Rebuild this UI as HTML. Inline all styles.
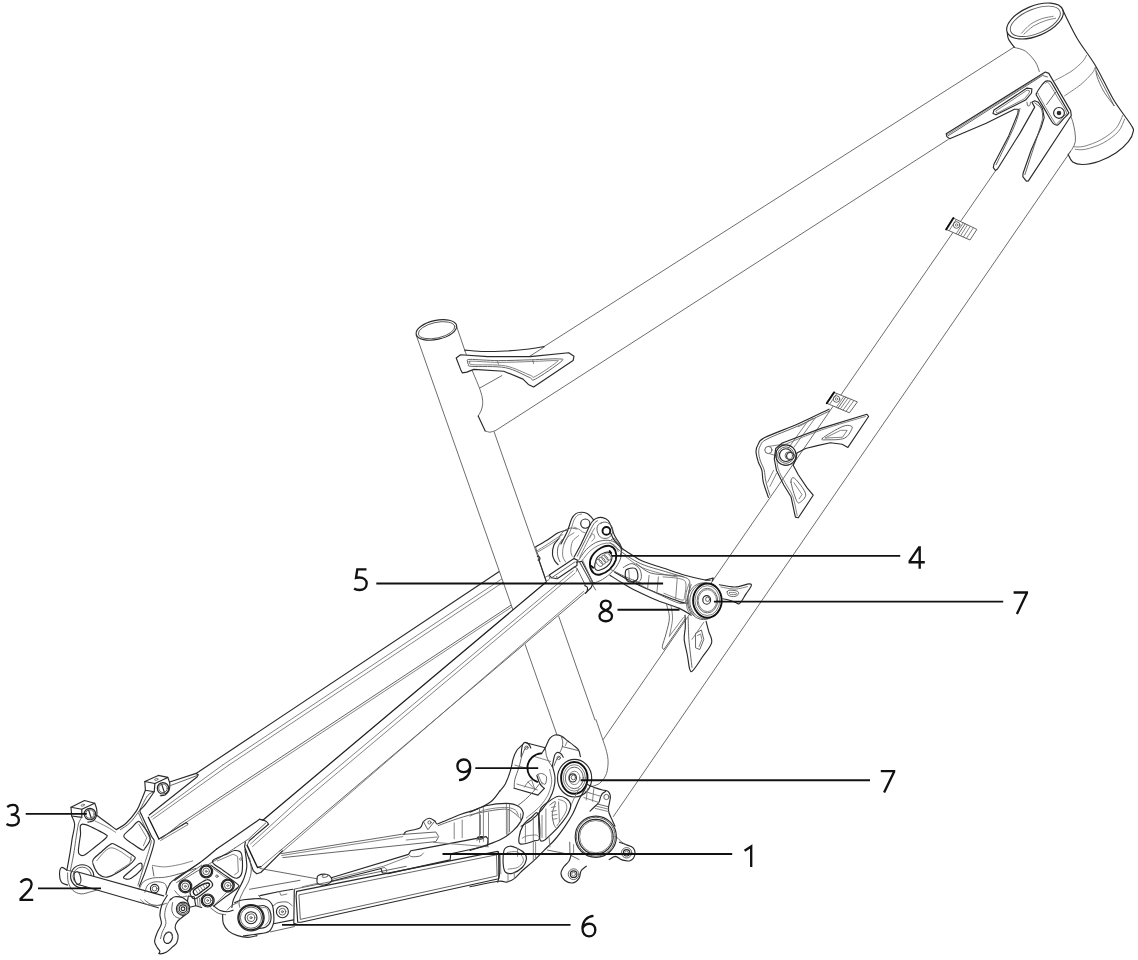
<!DOCTYPE html>
<html><head><meta charset="utf-8"><title>Frame diagram</title>
<style>
html,body{margin:0;padding:0;background:#fff;}
body{width:1138px;height:960px;overflow:hidden;font-family:"Liberation Sans",sans-serif;}
svg{display:block;}
path,line,circle,ellipse{fill:none;stroke-linecap:round;stroke-linejoin:round;}
.t{stroke:#4c4c4c;stroke-width:.82;}
.m{stroke:#2a2a2a;stroke-width:1.15;}
.b{stroke:#111;stroke-width:1.9;}
.b2{stroke:#1a1a1a;stroke-width:1.35;}
.m2{stroke:#1e1e1e;stroke-width:1.25;}
.f{stroke:#6e6e6e;stroke-width:.85;}
.g{stroke:#555;stroke-width:.9;}
.l{stroke:#111;stroke-width:1.85;stroke-linecap:butt;}
.w{fill:#fff;}
.d{stroke:#111;stroke-linecap:butt;stroke-linejoin:miter;stroke-miterlimit:6;}
text{font-family:"Liberation Sans",sans-serif;font-size:31px;fill:#111;stroke:#fff;stroke-width:.55;paint-order:fill stroke;}
</style></head><body>
<svg width="1138" height="960" viewBox="0 0 1138 960">
<line class="m" x1="196.1" y1="773.4" x2="500" y2="571"/>
<line class="f" x1="222.7" y1="765" x2="503.5" y2="577.8"/>
<line class="f" x1="228.9" y1="765" x2="505" y2="581"/>
<line class="g" x1="180" y1="823.9" x2="511" y2="605.2"/>
<line class="f" x1="181.5" y1="825.5" x2="512" y2="606.8"/>
<path class="w" stroke="none" d="M416.2 335.1 L456.6 326.4 L604 745 L556.7 734.2Z"/>
<line class="t" x1="544" y1="346.6" x2="1014.1" y2="47.1"/>
<line class="t" x1="494.9" y1="431" x2="948.3" y2="139.4"/>
<line class="t" x1="995.3" y1="171.1" x2="603.2" y2="739.5"/>
<line class="t" x1="1070.6" y1="151.4" x2="613.4" y2="816.5"/>
<line class="t" x1="416.2" y1="335.1" x2="556.7" y2="734.2"/>
<line class="t" x1="494.1" y1="431.8" x2="595" y2="720"/>
<ellipse class="m" cx="1035" cy="21" rx="30" ry="15" transform="rotate(-22.5 1035 21)"/>
<ellipse class="g" cx="1035.3" cy="21.3" rx="26.6" ry="12.2" transform="rotate(-22.5 1035.3 21.3)"/>
<path class="f" d="M1021.5 33.3 C1022.9 31.8 1027 26.8 1030.4 24.4 C1033.8 21.9 1038 20 1041.8 18.7 C1045.6 17.3 1051.3 16.7 1053.2 16.3"/>
<path class="f" d="M1023.9 34.1 C1025.5 32.8 1030.1 28.2 1033.6 26 C1037.2 23.8 1041.4 22.1 1045 20.8 C1048.7 19.5 1053.8 18.6 1055.6 18.2"/>
<path class="m" d="M1062.6 9.8 C1065.1 14.6 1072.1 29.8 1077.5 39 C1083 48.2 1089.1 55 1095.1 65 C1101.1 75 1107.3 89.1 1113.3 99.2 C1119.3 109.2 1127.9 119.8 1131.2 125.2 C1134.5 130.6 1133.7 128.8 1133.2 131.6 C1132.8 134.4 1131.3 138.2 1128.4 141.7 C1125.5 145.3 1120.6 149.9 1115.8 153.1 C1110.9 156.4 1104.8 159.3 1099.3 161.2 C1093.8 163.1 1087.3 164.4 1082.9 164.5 C1078.4 164.6 1075.2 163.7 1072.7 162 C1070.3 160.3 1068.9 155.7 1068.2 154.4"/>
<path class="m" d="M1007.3 32.5 C1007.5 33.6 1007.3 36.5 1008.5 39 C1009.6 41.5 1013.5 46.1 1014.5 47.5"/>
<path class="t" d="M1014.5 47.5 C1016.3 48.1 1022.1 48.8 1025.5 51.2 C1029 53.6 1033 58.4 1035.3 61.8 C1037.6 65.2 1038.7 69.9 1039.3 71.5"/>
<path class="t" d="M1095.7 67.5 C1096 68.9 1095.7 72.5 1097 76.4 C1098.3 80.3 1100.7 86.2 1103.5 91 C1106.4 95.9 1112.3 103.2 1114.1 105.7"/>
<line class="t" x1="1114.1" y1="105.7" x2="1096.2" y2="71.5"/>
<path class="f" d="M1054.8 80.5 C1057.5 79 1066.4 74.6 1071 71.5 C1075.6 68.4 1079.8 64.5 1082.4 61.8 C1085 59.1 1085.8 56.4 1086.5 55.3"/>
<path class="f" d="M1064.5 95.9 C1067.2 94 1076.2 88.3 1080.8 84.5 C1085.4 80.7 1089.8 76 1092.2 73.1 C1094.6 70.3 1094.6 68.4 1095.1 67.5"/>
<path class="f" d="M1124.6 119 C1123.6 121.1 1121.9 127.6 1118.3 131.6 C1114.7 135.6 1108.6 140 1103.1 143 C1097.6 146 1090 148.3 1085.4 149.3 C1080.7 150.4 1076.9 149.3 1075.3 149.3"/>
<path class="f" d="M1122.8 115.2 C1121.7 117.4 1119.4 124.5 1115.8 128.6 C1112.1 132.7 1106.3 136.8 1101.1 139.7 C1095.8 142.7 1088.6 145.1 1084.1 146.3 C1079.6 147.5 1075.7 146.7 1074 146.8"/>
<path class="t" d="M1065.1 106.3 C1066.4 108.8 1071 115.6 1072.7 121.5 C1074.4 127.4 1076 136.3 1075.3 141.7 C1074.5 147.2 1069.4 152.3 1068.2 154.4"/>
<path class="m w" d="M1045.3 72.0 L1048.8 73.4 L1070.6 110.6 L1071.3 115.5 L1068.5 119.8 L1028.4 180.9 L1026.3 181.2 L1022.8 176.7 L1023.1 173.2 L1031.2 150.0 L1041.1 127.5 L1044.2 117.6 L1042.5 108.5 L1038.3 102.2 L1034.7 100.8 L1031.9 102.2 L1034.7 107.1 L1020.0 133.1 L997.5 169.0 L995.4 170.4 L993.3 167.6 L994.0 164.0 L1008.7 135.9 L1017.9 113.4 L1018.3 109.2 L1014.4 109.2 L986.2 123.3 L949.7 138.7 L946.9 136.6 L946.2 133.8Z"/>
<path class="g" d="M948 135.9 L1042.5 75.5 L1047.4 76.9"/>
<path class="f" d="M947.2 134.8 L1043.9 73.6"/>
<path class="g" d="M1020 108.5 C1019 111.4 1018.3 116.7 1014.4 126.1 C1010.4 135.5 999.1 158.3 996.1 164.7"/>
<path class="g" d="M1034.7 102.9 C1035.8 103.8 1039.8 106 1041.1 108.5 C1042.4 111 1042.7 114.2 1042.5 117.6 C1042.2 121 1042.6 119.4 1039.7 128.9 C1036.7 138.4 1027.4 167 1024.9 174.6"/>
<path class="m" d="M994 109.9 L1027 88.1 L1031.9 88.8 L1031.5 93 L1025.6 100.1 L996.1 114.8 L993 113.4Z"/>
<path class="f" d="M996.1 110.9 L1027 90.2 L1029.5 90.7 L1029.1 93 L1024.5 98.7 L997.2 113.1Z"/>
<path class="g" d="M1027 102.2 C1027.1 102.8 1027.2 105.2 1027.7 105.7 C1028.2 106.2 1029.4 105.9 1029.8 105.3 C1030.3 104.7 1030.4 102.7 1030.5 102.2"/>
<path class="m" d="M1045.2 81.5 C1046.6 80.5 1048.1 80.9 1049.2 81.1 C1050.2 81.3 1049.7 80.1 1051.5 82.7 C1053.3 85.4 1057 92.1 1059.7 96.8 C1062.4 101.5 1066.3 108.2 1067.8 111 C1069.2 113.8 1069.1 112.2 1068.3 113.6 C1067.5 115 1064.7 117.5 1063 119.4 C1061.3 121.3 1059.2 124 1057.9 124.9 C1056.6 125.7 1056 125 1055 124.5 C1054 124 1053.8 124.5 1052.1 122 C1050.4 119.5 1047.3 113.8 1044.8 109.6 C1042.3 105.3 1038.5 99.1 1037.1 96.5 C1035.7 93.8 1035.9 95.1 1036.4 93.5 C1036.9 92 1039 89 1040.4 87 C1041.9 85 1043.7 82.5 1045.2 81.5Z"/>
<path class="f" d="M1045.7 83.5 C1046.2 83.4 1046.8 80.8 1048.8 83.2 C1050.8 85.6 1055 93.1 1057.9 97.9 C1060.8 102.7 1065.3 109.1 1066.3 112.1 C1067.3 115.2 1065.3 114.3 1063.7 116.1 C1062.2 118 1058.8 122.3 1057.2 123.3 C1055.6 124.3 1057.3 126.6 1054.3 122 C1051.2 117.4 1041.6 100.4 1039 95.7 C1036.3 91 1038.7 94.2 1038.6 93.9"/>
<line class="g" x1="1055.7" y1="92.1" x2="1046.6" y2="104.5"/>
<circle class="m" cx="1059" cy="112.9" r="5.4"/>
<circle class="m" cx="1059" cy="112.9" r="1.7"/>
<circle class="m" cx="1059" cy="112.9" r="0.6"/>
<path class="g w" d="M953.4 218.1 L976.9 229.4 L970.0 240.0 L946.2 229.4Z"/>
<line class="b" x1="953.4" y1="218.1" x2="946.2" y2="229.4"/>
<line class="f" x1="956.2" y1="219.5" x2="949.1" y2="230.7"/>
<line class="f" x1="963.3" y1="222.8" x2="956.2" y2="233.8"/>
<line class="g" x1="965.2" y1="223.8" x2="958.1" y2="234.7"/>
<line class="f" x1="967.5" y1="224.9" x2="960.5" y2="235.8"/>
<line class="f" x1="970.3" y1="226.2" x2="963.4" y2="237"/>
<line class="f" x1="973.4" y1="227.7" x2="966.4" y2="238.4"/>
<circle class="g" cx="956.6" cy="225" r="3.3"/>
<circle class="f" cx="956.6" cy="225" r="1.2"/>
<path class="g w" d="M834.1 392.4 L857.4 401.9 L849.4 412.8 L826.8 403.3Z"/>
<line class="b" x1="834.1" y1="392.4" x2="826.8" y2="403.3"/>
<line class="f" x1="836.9" y1="393.5" x2="829.5" y2="404.5"/>
<line class="f" x1="843.9" y1="396.4" x2="836.3" y2="407.3"/>
<line class="g" x1="845.7" y1="397.1" x2="838.1" y2="408.1"/>
<line class="f" x1="848.1" y1="398.1" x2="840.3" y2="409"/>
<line class="f" x1="850.9" y1="399.2" x2="843" y2="410.2"/>
<line class="f" x1="853.9" y1="400.5" x2="846" y2="411.4"/>
<circle class="g" cx="836.5" cy="399" r="3.3"/>
<circle class="f" cx="836.5" cy="399" r="1.2"/>
<ellipse class="m" cx="436.4" cy="329.9" rx="20.7" ry="9.5" transform="rotate(-12.3 436.4 329.9)"/>
<ellipse class="g" cx="436.6" cy="330.2" rx="18.6" ry="7.8" transform="rotate(-12.3 436.6 330.2)"/>
<path class="t" d="M456.6 326.4 L465 351"/>
<path class="t" d="M465 351 C466.3 354.5 470.4 365.6 472.9 372.1 C475.4 378.5 478.4 384.9 480 389.6 C481.6 394.3 482.3 397 482.6 400.2 C482.9 403.4 482.5 406.3 481.7 409 C481 411.6 478.8 414.8 478.2 416"/>
<path class="m" d="M478.2 416 L485.2 430.9"/>
<path class="t" d="M485.2 430.9 C486 431.1 488.5 432.2 490 432.2 C491.5 432.2 493.5 431.1 494.2 430.9"/>
<path class="m" d="M465 350.1 C468.2 350.3 477.6 351.3 484.4 351.5 C491.1 351.6 498.4 351.3 505.4 351 C512.5 350.6 520.1 349.9 526.5 349.2 C533 348.5 541.2 347 544.1 346.6"/>
<line class="t" x1="544.1" y1="347.1" x2="529.2" y2="356.6"/>
<line class="t" x1="501.9" y1="375.6" x2="480" y2="387.9"/>
<path class="m w" d="M456.2 358.0 L460.6 354.8 L487.9 356.6 L530.1 356.6 L568.7 352.7 L574.0 356.2 L573.1 360.6 L533.6 387.0 L528.3 384.4 L523.0 379.1 L503.7 371.2 L473.8 369.4 L466.8 372.1 L462.4 372.9 L460.6 369.4Z"/>
<path class="g" d="M467.7 361.5 C468 360.6 465.2 359.5 470.3 359.4 C475.4 359.3 488.2 360.6 498.4 360.6 C508.7 360.7 521.9 360 531.8 359.8 C541.8 359.5 553.3 358.5 558.2 358.9 C563 359.2 564.6 358.5 560.8 361.9 C557 365.2 540.6 376.5 535.3 379.1 C530.1 381.7 534.2 379.2 529.2 377.3 C524.2 375.4 515 369.5 505.4 367.7 C495.9 365.8 478.2 366.9 472.1 366.4 C465.9 365.9 469.3 365.5 468.5 364.7 C467.8 363.9 467.4 362.4 467.7 361.5Z"/>
<path class="f" d="M469.9 361.9 C469.8 361.3 467.3 361.1 472.1 361.2 C476.8 361.2 488.5 362.3 498.4 362.4 C508.4 362.4 522.4 361.8 531.8 361.5 C541.2 361.2 550.6 360.5 554.7 360.6 C558.8 360.8 559.6 359.8 556.4 362.4 C553.2 365 539.7 374.3 535.3 376.4 C530.9 378.6 535 377 530.1 375.2 C525.1 373.5 515 367.7 505.4 365.9 C495.9 364.1 478.9 365.3 472.9 364.7 C467 364 470.1 362.4 469.9 361.9Z"/>
<line class="f" x1="497.5" y1="360.6" x2="498.4" y2="364.1"/>
<line class="f" x1="532.7" y1="360.1" x2="533.6" y2="363.6"/>
<path class="m" d="M829 409.2 C823.9 411.6 809 419 798.3 423.8 C787.6 428.5 771.5 434.2 764.8 437.6 C758.1 441 759.7 441.9 758.2 444.2 C756.8 446.5 756 448.5 756 451.5 C756 454.4 757.3 458.5 758.2 461.7 C759.2 464.8 761 467 761.9 470.4 C762.7 473.8 762.2 477.6 763.3 482.1 C764.4 486.6 767.6 494.8 768.4 497.4"/>
<path class="g" d="M829.7 410.9 C824.6 413.3 809.5 420.8 799.1 425.5 C788.6 430.2 773.4 435.7 767 439.1 C760.5 442.4 761.8 443.4 760.4 445.6 C759 447.8 758.7 449.6 758.7 452.2 C758.7 454.7 759.5 458 760.4 460.9 C761.3 463.9 763.1 466.2 764.1 469.7 C765 473.2 765 477.8 766 482.1 C766.9 486.3 769.2 493 769.9 495.2"/>
<path class="f" d="M812.9 418.2 C811.5 419.1 806.6 422.3 804.2 423.8 C801.7 425.2 799.3 426.2 798.3 426.7"/>
<line class="f" x1="808.5" y1="420.1" x2="788.1" y2="448.5"/>
<line class="f" x1="815.8" y1="417.2" x2="794" y2="447.1"/>
<line class="f" x1="773.5" y1="470.4" x2="767.7" y2="482.1"/>
<line class="f" x1="776.5" y1="473.3" x2="769.9" y2="486.5"/>
<circle class="g" cx="768.4" cy="450" r="3.6"/>
<line class="f" x1="768.4" y1="446.4" x2="783.8" y2="444.2"/>
<line class="f" x1="769.2" y1="453.6" x2="776.5" y2="455.8"/>
<path class="m" d="M782.3 443 L821.7 428.1 L866.9 414.3 L868.6 416.5 L847.9 447.4 L842.1 444.2 L830.4 442.7 L817.3 445.6 L805.6 448.5 L796.9 452.9 L796.1 458.8 L793.2 465.3 L798.3 474.8 L807.1 487.9 L813.2 495.2 L798.3 517.8 L795.4 517.1 L791 496.7 L783.8 485 L776.5 470.4 L774.3 458.8 L775.7 448.5Z"/>
<path class="f" d="M783.8 444.9 C790.1 442.4 808.1 434.6 821.7 429.9 C835.3 425.1 858.1 418.7 865.4 416.5"/>
<path class="f" d="M776.5 452.9 C776.8 455.6 776.8 464 778.2 469 C779.7 473.9 782.8 478.2 785.2 482.8 C787.6 487.4 790.8 491.2 792.8 496.7 C794.8 502.1 796.4 512.5 797.2 515.6"/>
<path class="g" d="M822.4 438.3 C824.8 436.1 837.3 428.7 842.1 426.7 C846.8 424.6 849.3 425.5 850.8 425.9 C852.4 426.4 852.7 427.5 851.6 429.6 C850.5 431.7 848.3 436.6 844.3 438.3 C840.3 440 831.1 439.8 827.5 439.8 C823.9 439.8 820 440.5 822.4 438.3Z"/>
<path class="f" d="M825.3 437.9 L840.6 430.3 L847.2 430.3 L842.8 436.9Z"/>
<path class="g" d="M791 482.1 C790.8 478.6 792.3 476.5 794.7 478.4 C797.1 480.4 804.8 489.7 805.6 493.8 C806.5 497.8 801.4 501.5 799.8 502.5 C798.2 503.5 797.6 503 796.1 499.6 C794.7 496.2 791.3 485.6 791 482.1Z"/>
<path class="f" d="M794 482.8 L802 494.5 L799.1 498.9"/>
<circle class="m" cx="785.9" cy="455.1" r="10.2"/>
<circle class="g" cx="785.9" cy="455.1" r="8.2"/>
<circle class="m" cx="785.9" cy="455.1" r="6.4"/>
<circle class="m w" cx="790.3" cy="456.1" r="3.7"/>
<circle class="g" cx="788.8" cy="455.6" r="3.7"/>
<path class="w" stroke="none" d="M263.1 819.9 L546.2 581.9 L575.0 562.0 L582.0 561.0 L593.1 582.8 L591.2 587.5 L585.6 593.1 L281.5 851.2 L258.3 869.1 L246.7 845.4Z"/>
<line class="m2" x1="263.1" y1="819.9" x2="546.2" y2="581.9"/>
<path class="f" d="M250.5 844 L298.8 800 L573.2 570.8"/>
<path class="f" d="M252.5 846.5 L305 800 L575.1 573.1"/>
<line class="g" x1="279.6" y1="851.2" x2="584.6" y2="593.1"/>
<line class="f" x1="282" y1="852" x2="583.6" y2="591.4"/>
<path class="m" d="M584.7 585.6 C585.1 585.9 586.9 586.4 587.3 587.3 C587.7 588.2 587.4 590.3 587.1 591.2 C586.8 592.2 585.9 592.8 585.6 593.1"/>
<path class="m" d="M576.2 562.2 L581.9 561.2 L593.1 582.8 L591.2 587.5 L585.6 593.1"/>
<path class="g" d="M577.2 568.7 L585.6 585.6"/>
<path class="f" d="M580 562.2 L590.3 581.9"/>
<path class="m" d="M263.3 820 L259.6 819.3"/>
<path class="m" d="M259.6 819.3 C260.3 819.5 262.9 820 264.2 820.4 C265.4 820.9 266.4 821.4 267.1 822.1 C267.8 822.7 268.3 824 268.5 824.3"/>
<path class="m" d="M268.5 824.3 L250 840 L249.2 840.8"/>
<path class="m" d="M245.4 841.7 L244.6 846.7 L253.3 870.8 L256.7 873.8 L260.8 872.5 L282.5 850.8"/>
<path class="b2" d="M247.1 845.4 L257.5 867.5 L261 866.7"/>
<path class="g" d="M249.2 840.8 L247.1 845.4"/>
<path class="f" d="M261 866.7 L281.7 849.2"/>
<path class="m" d="M535.6 546.9 C537.5 545.8 543.1 542.6 546.9 540.3 C550.6 538 554.8 534.5 558.1 532.8 C561.4 531.1 565.1 530.5 566.6 530"/>
<path class="f" d="M536.6 551.1 C538.4 549.9 544.1 546.5 547.8 544 C551.6 541.6 556.6 538.1 559.1 536.6 C561.6 535 562.2 535 562.8 534.7"/>
<path class="f" d="M537 552.5 C539 551.3 544.9 547.9 548.7 545.5 C552.6 543 558.1 539.2 560 538"/>
<path class="g" d="M535.6 546.9 L537 552.5 L539.4 557.2 L538.9 560"/>
<path class="m" d="M558.1 539.4 C557.4 540.3 554.8 542.5 553.9 545 C553 547.5 552.3 551.7 552.5 554.4 C552.6 557 553.9 559.2 554.8 560.9 C555.8 562.6 557.6 564 558.1 564.7"/>
<path class="g" d="M562.3 539.4 C561.6 540.6 558.9 544.2 558.1 546.9 C557.3 549.5 557.3 552.8 557.6 555.3 C558 557.8 559.6 560.8 560 561.9"/>
<path class="f" d="M574 532.8 C573 533.6 569.3 535.1 567.5 537.5 C565.7 539.8 564.1 543.7 563.3 546.9 C562.5 550 562.4 553.7 562.8 556.2 C563.2 558.7 565.1 560.9 565.6 561.9"/>
<path class="f" d="M578.7 535.6 C577.7 536.6 574 538.7 572.6 541.2 C571.3 543.7 570.8 548.1 570.8 550.6 C570.7 553.1 571.9 555.3 572.2 556.2"/>
<path class="g" d="M558.1 539.4 C558.9 538.1 560.8 533.7 562.8 531.9 C564.8 530 568 528.6 570.3 528.1 C572.6 527.6 575.8 528.9 576.9 529.1"/>
<path class="m" d="M560.9 544 C562 541.9 565.7 535.1 567.5 530.9 C569.3 526.7 570.3 521.6 571.7 518.7 C573.1 515.9 574.4 514.7 575.9 513.6 C577.5 512.5 579.2 512.2 581.1 512.2 C583 512.2 585.4 512.7 587.2 513.6 C589 514.5 590.8 516.7 591.9 517.8 C592.9 518.9 593.4 519.8 593.7 520.1"/>
<path class="f" d="M563.7 544 C564.8 541.9 568.6 534.9 570.3 530.9 C572 526.9 572.9 522.7 574 520.1 C575.2 517.6 576.1 516.5 577.3 515.5 C578.6 514.4 580.8 514.3 581.5 514.1"/>
<circle class="m" cx="585.3" cy="523.6" r="4.6"/>
<path class="f" d="M574 527.2 C574.8 527.5 577.3 528.3 578.7 529.1 C580.1 529.8 581.4 531.2 582.5 531.9 C583.6 532.5 584.8 532.6 585.3 532.8"/>
<path class="m" d="M574 557.2 C575.1 555.1 578.4 549.4 580.6 545 C582.8 540.6 585.3 534.8 587.2 530.9 C589 527.1 590.3 524.1 591.9 522 C593.4 519.9 594.7 519 596.5 518.3 C598.3 517.5 600.7 517.2 602.6 517.6 C604.6 518 606.8 519 608.3 520.6 C609.7 522.2 610.4 524.6 611.5 527.2 C612.6 529.8 613.4 533.3 614.8 536.1 C616.2 538.9 618.8 541.8 620 544 C621.1 546.3 621.6 547.6 621.7 549.7 C621.7 551.7 620.6 555.1 620.4 556.2"/>
<path class="g" d="M577.3 556.2 C578.3 554.2 581.3 548.3 583.4 544 C585.5 539.8 588.2 534.4 590 530.9 C591.8 527.5 592.9 525.1 594.2 523.4 C595.4 521.7 596.9 521.2 597.5 520.8"/>
<path class="f" d="M579.7 557.2 C580.8 555 584.2 548.1 586.2 544 C588.3 540 590.4 535.5 591.9 532.8 C593.3 530.1 594.2 528.9 594.7 528.1"/>
<circle class="b" cx="606.4" cy="530.9" r="3.9"/>
<path class="g" d="M601.2 523 C602.3 522.5 603.6 521.9 605 522 C606.4 522.2 608.4 522.9 609.7 523.9 C610.9 524.9 612 526.6 612.5 528.1 C612.9 529.6 612.9 531.3 612.5 532.8 C612 534.3 610.9 536.1 609.7 537 C608.4 538 606.5 538.4 605 538.4 C603.4 538.4 601.5 538 600.3 537 C599.1 536.1 598.2 534.3 597.7 532.8 C597.1 531.3 596.9 529.5 597 528.1 C597.1 526.7 597.7 525.4 598.4 524.6 C599.1 523.7 600.1 523.4 601.2 523Z"/>
<path class="f" d="M590 537.5 C590.4 536.9 592 533.7 592.8 533.7 C593.6 533.7 594.8 536.2 594.7 537.5 C594.5 538.7 592.3 540.6 591.9 541.2"/>
<path class="g" d="M578.7 560 C580 558.3 583.4 552.6 586.2 549.7 C589 546.8 592.5 544.2 595.6 542.6 C598.7 541.1 602.2 540.5 605 540.3 C607.8 540.1 610.2 540.4 612.5 541.2 C614.7 542.1 617.1 543.8 618.6 545.5 C620 547.1 621.1 548.7 621.4 551.1 C621.6 553.5 621.1 556.9 620 560 C618.8 563 616.8 566.4 614.3 569.4 C611.8 572.3 608.1 575.6 605 577.8 C601.9 580 598.1 581.8 595.6 582.5 C593.1 583.1 590.9 581.7 590 581.5"/>
<path class="f" d="M582.5 560 C583.7 558.5 587.2 553.6 590 551.1 C592.8 548.6 596.2 546.3 599.4 545 C602.5 543.7 606.1 543 608.7 543.1 C611.4 543.3 613.7 544.5 615.3 545.9 C616.8 547.3 617.6 550.6 618.1 551.5"/>
<path class="g" d="M611.5 539.4 L614.3 538.4 L621.4 546.9"/>
<path class="b" d="M590 565.6 C589.7 562.8 590 559.2 591.9 556.2 C593.7 553.3 598.3 549.5 601.2 547.8 C604.2 546.1 607.3 545.5 609.7 545.9 C612 546.4 614.3 548.3 615.3 550.6 C616.3 553 616.7 556.9 615.8 560 C614.8 563.1 612.2 566.9 609.7 569.4 C607.1 571.8 602.9 573.9 600.3 574.5 C597.6 575.1 595.4 574.6 593.7 573.1 C592 571.6 590.3 568.4 590 565.6Z"/>
<path class="m" d="M594.7 565.6 C595 563.6 595.8 559.4 597.5 557.2 C599.2 555 602.8 553.1 605 552.5 C607.2 551.9 609.5 552.2 610.6 553.4 C611.7 554.7 612.2 557.8 611.5 560 C610.9 562.2 608.9 564.8 606.9 566.5 C604.8 568.3 601.2 569.8 599.4 570.3 C597.5 570.8 596.4 570.1 595.6 569.4 C594.8 568.6 594.4 567.6 594.7 565.6Z"/>
<ellipse class="f" cx="599.4" cy="562.8" rx="2.6" ry="4.2" transform="rotate(-40 599.4 562.8)"/>
<ellipse class="f" cx="602.2" cy="560.7" rx="2.6" ry="4.2" transform="rotate(-40 602.2 560.7)"/>
<ellipse class="f" cx="605" cy="558.7" rx="2.6" ry="4.2" transform="rotate(-40 605 558.7)"/>
<ellipse class="f" cx="607.8" cy="556.6" rx="2.6" ry="4.2" transform="rotate(-40 607.8 556.6)"/>
<path class="b" d="M609.7 551.1 l1.5 2"/>
<path class="b" d="M591.4 566.1 l1.8 1.6"/>
<path class="m" d="M549.2 575 L574 558.6 L577.3 560 L576.9 565.6 L557.2 578.7 L551.6 577.8Z"/>
<line class="g" x1="551.6" y1="577.8" x2="575" y2="561.9"/>
<line class="g" x1="557.2" y1="578.7" x2="556.7" y2="576.4"/>
<path class="g" d="M571.2 569.4 C571.7 569 573.1 567.2 574 567 C575 566.9 576.5 567.7 576.9 568.4 C577.3 569.1 576.5 570.8 576.4 571.2"/>
<path class="g" d="M578.7 560.9 L595.6 590"/>
<path class="f" d="M582.5 560 L593.7 584.3"/>
<path class="m" d="M537.5 556.2 C537.9 556.5 539.5 557 539.8 557.6 C540.2 558.3 539.7 559.6 539.4 560 C539.1 560.4 538.2 560 538 560"/>
<path class="g" d="M545.9 576.9 C546.4 576.7 548.1 575.6 548.7 575.9 C549.4 576.2 549.9 577.9 549.7 578.7 C549.4 579.5 547.7 580.3 547.3 580.6"/>
<line class="m" x1="538.9" y1="560" x2="545.9" y2="580.6"/>
<path class="m" d="M610 531.6 C610.8 533.1 612.6 538.1 614.7 540.9 C616.8 543.8 619.4 546.3 622.5 548.8 C625.6 551.2 630.1 553.7 633.4 555.8 C636.8 557.9 638.1 559.3 642.8 561.2 C647.5 563.2 654.5 565.2 661.6 567.5 C668.6 569.8 678 573.3 685 575.3 C692 577.3 699.6 578.9 703.8 579.7 C707.9 580.5 709 580.2 710 580.3"/>
<path class="g" d="M610 542.5 C611.6 543.8 615.7 547.6 619.4 550.3 C623 553 627.7 556.4 631.9 558.9 C636 561.4 639.2 563.2 644.4 565.2 C649.6 567.2 656.6 569 663.1 570.9 C669.6 572.9 680.1 575.9 683.4 576.9"/>
<path class="f" d="M625.6 556.6 C627.2 557.7 631.6 561.5 635 563.6 C638.4 565.7 641 567.2 645.9 569.1 C650.9 570.9 659.5 573.2 664.7 574.5 C669.9 575.8 675.1 576.5 677.2 576.9"/>
<path class="m" d="M610 575.3 C612.1 576.6 618.6 580.8 622.5 583.1 C626.4 585.5 627.7 586.5 633.4 589.4 C639.2 592.2 649.3 597.2 656.9 600.3 C664.4 603.4 673 605.7 678.8 608.1 C684.5 610.6 689.2 614 691.2 615.2"/>
<path class="m" d="M614.7 572.2 C616.8 573.4 622.8 576.9 627.2 579.2 C631.6 581.6 635.5 583.6 641.2 586.2 C647 588.9 655.1 592.2 661.6 594.8 C668.1 597.4 675.9 600.4 680.3 601.9 C684.7 603.3 686.8 603.2 688.1 603.4"/>
<path class="g" d="M610 569.1 C612.6 570.4 620.2 574.4 625.6 576.9 C631.1 579.3 639.9 582.7 642.8 583.9"/>
<line class="f" x1="610" y1="583.9" x2="619.4" y2="583.9"/>
<path class="g" d="M636.6 563.6 C638.9 565.2 644.6 571 650.6 573 C656.6 574.9 667 574.7 672.5 575.3 C678 576 680.6 575.8 683.4 576.9 C686.3 577.9 688.9 578.4 689.7 581.6 C690.5 584.7 688.9 592.2 688.1 595.6 C687.3 599.1 686.6 600.9 685 602.2 C683.4 603.4 682.7 604.2 678.8 603.1 C674.8 602 667.8 598.6 661.6 595.6 C655.3 592.7 645.9 588.1 641.2 585.5 C636.6 582.9 634.7 580.9 633.4 580"/>
<path class="f" d="M663.1 576.9 C666 577.2 676.5 577.7 680.3 578.8 C684.1 579.8 685.1 580.3 685.8 583.1 C686.5 585.9 685.3 592.8 684.7 595.6 C684 598.4 685.3 600.4 681.9 600 C678.4 599.6 666.9 594.4 663.9 593.3"/>
<path class="f" d="M649.1 575.3 L647.5 589.4"/>
<path class="f" d="M658.4 576.9 L656.9 592.5"/>
<path class="f" d="M677.2 578.4 L675.6 599.5"/>
<path class="m" d="M625.6 570.9 C626 569.8 626.2 569.6 627.5 569.1 C628.8 568.6 632 567.9 633.4 568 C634.9 568 635.5 568.4 636.2 569.4 C637 570.4 637.6 572.5 637.8 574.1 C638 575.6 637.9 577.6 637.5 578.8 C637.1 579.9 636.6 580.4 635.3 580.9 C634.1 581.5 631.4 582.1 630 582 C628.6 581.9 627.7 581.3 626.9 580.3 C626.1 579.3 625.5 577.7 625.3 576.1 C625.1 574.5 625.3 572.1 625.6 570.9Z"/>
<path class="f" d="M628.8 570.3 L629.5 580.8"/>
<path class="g" d="M623.3 567.5 C624.7 566.8 629.1 563.3 631.9 563.6 C634.6 563.9 638.1 566.6 639.7 569.1 C641.2 571.5 641.8 576 641.2 578.4 C640.7 580.9 637.3 583 636.6 583.9"/>
<ellipse class="g w" cx="703.6" cy="601.2" rx="16.2" ry="18.4" transform="rotate(0 703.6 601.2)"/>
<ellipse class="g w" cx="705.2" cy="601" rx="15.4" ry="17.8" transform="rotate(0 705.2 601)"/>
<ellipse class="b w" cx="707.4" cy="600.6" rx="14.3" ry="17.1" transform="rotate(0 707.4 600.6)"/>
<ellipse class="f" cx="707.4" cy="600.6" rx="12.4" ry="14.9" transform="rotate(0 707.4 600.6)"/>
<ellipse class="g" cx="707.4" cy="600.6" rx="10.3" ry="12.3" transform="rotate(0 707.4 600.6)"/>
<ellipse class="f" cx="707.4" cy="600.6" rx="9.2" ry="11" transform="rotate(0 707.4 600.6)"/>
<ellipse class="m" cx="706.7" cy="599.9" rx="3.9" ry="4.3" transform="rotate(0 706.7 599.9)"/>
<ellipse class="g" cx="707.6" cy="599.3" rx="2" ry="2.2" transform="rotate(0 707.6 599.3)"/>
<path class="g" d="M691.2 584.7 C690.7 586.5 688.4 591.7 688.1 595.6 C687.9 599.5 688.6 604.9 689.7 608.1 C690.7 611.4 693.6 614 694.4 615.2"/>
<path class="f" d="M688.9 583.9 C688.4 585.9 686 591.5 685.8 595.6 C685.5 599.8 686.4 605.7 687.3 608.9 C688.3 612.2 690.6 614.1 691.2 615.2"/>
<path class="m" d="M719.4 584.7 C722 585.1 730.1 587.2 735 587 C739.9 586.9 746.4 584 749.1 583.9 C751.7 583.8 751.6 584.6 751.1 586.2 C750.6 587.9 747.8 591.2 745.9 594.1 C744 596.9 741.5 602.1 739.7 603.4 C737.9 604.8 736.8 602.8 735 602.2 C733.2 601.6 730.8 600.6 728.8 600 C726.7 599.4 723.8 599 722.8 598.8"/>
<path class="f" d="M720.9 587 C723.3 587.4 730.6 589.1 735 589.1 C739.4 589 745.4 587 747.5 586.6"/>
<path class="g" d="M727.2 591.7 C727.4 590.8 728.6 590.2 730.3 590.2 C732 590.1 736 590.6 737.3 591.2 C738.7 591.9 738.8 593.2 738.4 594.1 C738 594.9 736.6 596.1 735 596.4 C733.4 596.7 730.1 596.4 728.8 595.6 C727.4 594.8 726.9 592.6 727.2 591.7Z"/>
<path class="f" d="M729.5 592.5 C730.4 592.2 734.7 592.5 735.8 592.8 C736.9 593.1 737.2 594.1 736.2 594.4 C735.3 594.6 731.4 594.7 730.3 594.4 C729.2 594.1 728.6 592.8 729.5 592.5Z"/>
<line class="m" x1="705.3" y1="580" x2="713.1" y2="578.1"/>
<line class="m" x1="713.1" y1="578.1" x2="712.3" y2="580.8"/>
<path class="m" d="M685 615.2 C685.1 617.1 685.4 622.8 685.3 626.9 C685.2 630.9 683.9 634.7 684.2 639.4 C684.6 644.1 686.4 650.1 687.3 655 C688.3 659.9 688.8 666.5 689.7 669.1 C690.6 671.7 690.7 672.6 692.8 670.6 C694.9 668.7 699.1 662 702.2 657.3 C705.3 652.7 710.5 647.1 711.6 642.8 C712.7 638.5 709.7 635.1 708.8 631.6 C707.8 628 706.5 623.1 706.1 621.4"/>
<path class="g" d="M688.1 617.5 C688.3 621.1 688.3 631 688.9 639.4 C689.6 647.7 691.5 662.8 692 667.5"/>
<path class="g" d="M695.9 633.1 L701.4 630 L703.8 639.4 L699.8 649.5 L695.9 648Z"/>
<path class="f" d="M697.5 635.5 L700.6 633.9 L701.9 639.4 L699.1 646.4"/>
<line class="f" x1="703.8" y1="622.2" x2="692" y2="639.4"/>
<path class="g" d="M666.2 603.4 C666.8 605.8 669.4 612.6 669.4 617.5 C669.4 622.4 667.4 628.3 666.2 633.1 C665.1 637.9 662.7 643.7 662.3 646.4 C662 649.1 663.6 649 663.9 649.5"/>
<path class="f" d="M670.9 605 C671.2 607.3 672.8 613.9 672.5 619.1 C672.2 624.3 669.9 633.4 669.4 636.2"/>
<line class="g" x1="663.9" y1="649.5" x2="685" y2="619.1"/>
<line class="f" x1="669.4" y1="636.2" x2="683.4" y2="617.5"/>
<path class="g" d="M280.6 853.7 L401.6 834.3 L403.9 834.3 L435.9 832 L438.7 836.6 L435.9 841.6 L282.8 857.6"/>
<path class="f" d="M406.2 840 L437.1 837"/>
<path class="g" d="M260 868.5 L317.1 878.8"/>
<path class="f" d="M281.7 855.5 L402.8 836.6"/>
<path class="m" d="M296.6 891.4 L497.6 851.4 L499.4 854.8 L498.7 878.8 L301.1 922.2 L297.7 922.2 L296.1 896Z"/>
<path class="g" d="M299.3 894.8 L496.5 854.8 L497.1 875.9 L300.7 919.3Z"/>
<path class="m" d="M294.3 889.6 L293.8 923.4 L297.7 924.5"/>
<path class="g" d="M294.3 889.1 L406.2 866.3"/>
<path class="f" d="M302.3 886.8 L317.1 883.4"/>
<path class="m" d="M317.1 878.8 C317.2 877.5 316.7 876.2 318.3 875.4 C319.8 874.6 324.1 873.9 326.3 874.3 C328.4 874.6 330.5 876.3 331.3 877.7 C332 879 332 881 330.8 882.2 C329.6 883.5 326.2 884.8 324 885 C321.8 885.2 318.7 884.4 317.6 883.4 C316.4 882.4 317 880.2 317.1 878.8Z"/>
<ellipse class="g" cx="325.1" cy="875.9" rx="3.2" ry="1.4" transform="rotate(-10 325.1 875.9)"/>
<path class="m" d="M331.3 877.7 L408.5 854.4 L410.8 850.7 L419.9 849.1 L486.2 836.6 L488 838.8 L487.6 845.7 L450.8 853.7 L450.1 859.9 L387.9 873.6 L382.2 872.7 L381.1 868.5 L331.3 881.3"/>
<path class="f" d="M331.3 879.5 L383.4 866.3 L408.5 856.7"/>
<path class="g" d="M408.5 854.4 C409.1 854.8 410 856.4 411.9 856.7 C413.8 856.9 418 856.6 419.9 856 C421.8 855.4 422.8 853.5 423.4 853"/>
<path class="g" d="M381.1 868.5 C381.7 868.4 383.6 867.3 384.5 867.6 C385.5 867.9 386.6 869.5 386.8 870.4 C387 871.3 385.8 872.7 385.7 873.1"/>
<ellipse class="m" cx="480.5" cy="837.9" rx="3.2" ry="1.3" transform="rotate(-8 480.5 837.9)"/>
<path class="f" d="M477 838.4 L477 840.7"/>
<path class="m" d="M403.9 834.3 C404.3 833.8 403.6 832.6 406.2 831.5 C408.9 830.5 417.1 829.5 419.9 827.9 C422.8 826.2 421.8 823.3 423.4 821.7 C424.9 820.1 427.2 818.4 429.1 818.3 C431 818.2 433.4 820.1 434.8 821 C436.1 822 435.7 823.9 437.1 824 C438.4 824.1 438.8 823.3 442.8 821.7 C446.8 820.1 455.3 816.3 461.1 814.2 C466.8 812.1 472.1 811.2 477 809.1 C482 807.1 486.9 804.9 490.8 801.8 C494.6 798.8 498.4 792.7 499.9 790.9"/>
<path class="g" d="M438.2 825.6 C441.6 824.4 451.9 820.4 458.8 818.3 C465.6 816.1 471.7 814.3 479.3 812.8 C486.9 811.3 498.7 809.2 504.5 809.1 C510.2 809.1 511 811 513.6 812.6 C516.2 814.1 518.9 817.3 520 818.3"/>
<circle class="g" cx="429.5" cy="822.4" r="1.6"/>
<path class="g" d="M423.4 821.7 L427.9 829.7 L434.8 821"/>
<path class="f" d="M454.2 822.8 L454.2 838.8"/>
<path class="f" d="M462.2 820.1 L462.2 837.7"/>
<path class="f" d="M480.5 814.9 L480.5 834.3"/>
<path class="f" d="M488.5 812.6 L488.5 843.4"/>
<path class="f" d="M507.9 810.3 L507.9 834.3"/>
<path class="g" d="M404.4 834.3 L406.2 831.5"/>
<path class="f" d="M433.6 842.3 L488.5 846.8"/>
<path class="t" d="M596 719.7 C597.1 723.1 601.1 734.5 602.8 739.8 C604.6 745 605.6 747.7 606.5 751.4 C607.4 755.1 608.1 758.2 608.1 761.9 C608.1 765.6 607.6 770.2 606.5 773.5 C605.4 776.8 603.2 779.9 601.2 781.9 C599.3 784 596.8 784.9 594.9 785.6 C593 786.4 590.5 786.2 589.6 786.4"/>
<path class="m" d="M542.2 752.6 C542.7 751.8 544.1 750 545.3 747.7 C546.6 745.4 548 740.8 549.6 738.7 C551.1 736.6 552.9 735.5 554.8 735 C556.8 734.6 559.1 735.1 561.2 736.1 C563.3 737 565.4 739.2 567.5 740.8 C569.6 742.4 572 744 573.8 745.6 C575.7 747.1 577.5 748.3 578.6 750.1 C579.7 751.9 580.1 755.5 580.4 756.6"/>
<path class="g" d="M561.2 736.1 C561.4 737 562.6 740 562.7 741.9 C562.9 743.7 562.7 745.3 562.2 747.1 C561.7 749 560 752 559.6 752.9"/>
<path class="g" d="M562.4 746.6 L578 750.5"/>
<path class="f" d="M567.5 740.8 L565.4 745.6"/>
<path class="g" d="M545.3 747.7 C545.5 749 545.8 753.2 546.4 755.6 C547 758 548 760 549 761.9 C550.1 763.8 552.1 766.3 552.7 767.2"/>
<path class="m" d="M525.8 742.7 L545.3 747.7"/>
<path class="f" d="M534.8 756.6 L550.6 761.4"/>
<path class="g" d="M537.4 774.6 C538.1 774.4 540.2 773.2 541.7 773.5 C543.1 773.9 545.8 774.9 546.4 776.7 C547 778.4 546.1 783.1 545.3 784.1 C544.6 785 542.3 782.7 541.7 782.5"/>
<path class="m" d="M536.9 775.6 C537.4 777 538.8 781.9 540.1 784.1 C541.3 786.2 543.6 787.6 544.3 788.3"/>
<path class="f" d="M538 774.6 L542.2 784.1"/>
<path class="b" d="M541.3 753.4 A14.6 14.6 0 0 0 537.3 781.8"/>
<path class="m" d="M521.1 756.6 C521.2 755.4 521.4 751.3 521.6 749.3 C521.9 747.2 522.1 745.7 522.7 744.5 C523.3 743.4 524.3 742.4 525.3 742.4 C526.4 742.4 528.1 743.6 529 744.5 C529.9 745.4 530.5 747.4 530.8 748"/>
<path class="g" d="M521.6 756.6 L524.8 748.7 L527.9 746.1"/>
<circle class="g" cx="526.4" cy="747.7" r="1.7"/>
<path class="m" d="M522.7 744.5 C521.7 745.5 518.5 747.9 516.9 750.3 C515.3 752.7 514.2 755.4 513.2 758.7 C512.1 762.1 511.9 766.1 510.5 770.3 C509.2 774.6 507 780.6 505.3 784.1 C503.5 787.5 500.9 789.8 500 790.9"/>
<path class="g" d="M521.6 756.6 C521.2 758.4 520.1 763.3 519 767.2 C517.8 771 515.6 776.3 514.8 779.8 C514 783.4 514.3 786.9 514.2 788.3"/>
<path class="m" d="M514.2 788.3 L538 795.1 L544.3 788.3"/>
<path class="f" d="M516.9 784.1 L537.4 789.9"/>
<path class="f" d="M524.3 787.2 L527.9 781.9 L534.8 789.3"/>
<path class="f" d="M527.9 781.9 L531.6 779.8 L534.8 789.3"/>
<path class="f" d="M514.8 765.1 L526.4 768.2"/>
<path class="m" d="M552.2 766.7 C552.5 765.3 553.3 760.8 553.8 758.7 C554.3 756.7 554.4 755.6 555 754.5 C555.7 753.5 556.5 752.5 557.5 752.4 C558.5 752.3 560.2 753.2 561.2 754 C562.1 754.8 562.9 756.6 563.3 757.2"/>
<path class="g" d="M553.8 766.1 L556.9 758.7 L560.1 756.1"/>
<circle class="g" cx="558.7" cy="757.9" r="1.7"/>
<ellipse class="m w" cx="574.6" cy="778.2" rx="17.1" ry="18.8" transform="rotate(0 574.6 778.2)"/>
<ellipse class="b" cx="574.3" cy="777.9" rx="13.2" ry="15.9" transform="rotate(0 574.3 777.9)"/>
<ellipse class="f" cx="574.3" cy="777.9" rx="11" ry="13.2" transform="rotate(0 574.3 777.9)"/>
<ellipse class="g" cx="574.3" cy="777.9" rx="9" ry="10.8" transform="rotate(0 574.3 777.9)"/>
<ellipse class="f" cx="574.3" cy="777.9" rx="5.6" ry="6.7" transform="rotate(0 574.3 777.9)"/>
<ellipse class="m" cx="572.8" cy="777.9" rx="3.6" ry="4.1" transform="rotate(0 572.8 777.9)"/>
<ellipse class="g" cx="573.4" cy="777.5" rx="2.1" ry="2.4" transform="rotate(0 573.4 777.5)"/>
<path class="m" d="M552.7 767.2 C553.1 768.9 554.9 774.2 555 777.7 C555.2 781.2 554.7 784.8 553.8 788.3 C552.9 791.8 551.5 795.3 549.6 798.8 C547.6 802.3 545.2 805.8 542.2 809.4 C539.2 812.9 535.2 817.1 531.6 819.9 C528.1 822.7 522.8 825.2 521.1 826.2"/>
<path class="f" d="M549.6 769.3 C549.9 771 551.5 776.7 551.7 779.8 C551.8 783 551.3 785.3 550.4 788.3 C549.5 791.3 548.5 794.4 546.4 797.8 C544.3 801.1 541.3 805 538 808.3 C534.6 811.6 528.3 816.2 526.4 817.8"/>
<path class="m" d="M586.2 784.1 C586.9 784.3 588.3 784.9 590 785.6 C591.7 786.3 594.2 787.4 596.2 788.1 C598.3 788.9 600.7 789.6 602.5 790 C604.3 790.4 605.7 790.2 606.9 790.8 C608 791.3 608.8 792.1 609.4 793.1 C610 794.1 610.4 795.3 610.4 796.9 C610.4 798.4 609.8 800.7 609.5 802.5 C609.2 804.3 608.6 805.8 608.5 807.5 C608.4 809.2 608.4 810.6 608.9 812.5 C609.4 814.4 610.5 816.5 611.6 818.8 C612.6 821 614.4 825 615 826.2"/>
<path class="m" d="M605.6 791.4 C605.1 791.7 603.3 792.5 602.5 793.4 C601.7 794.4 601.2 795.4 600.6 796.9 C600 798.4 599.9 800.7 598.8 802.5 C597.6 804.3 595.2 806 593.8 807.5 C592.3 809 590.6 810.6 590 811.2"/>
<circle class="g" cx="606.4" cy="797" r="2.6"/>
<path class="g" d="M597.8 804.1 L607.8 806.6"/>
<path class="f" d="M596.6 806.2 L608.1 809.1"/>
<path class="f" d="M595.3 808.4 L608.6 811.6"/>
<path class="f" d="M590 793.1 L600.6 796.2"/>
<path class="f" d="M593.8 788.8 L592.5 801.2"/>
<path class="f" d="M587.5 788.8 L586.2 800"/>
<path class="f" d="M585 791.2 L590 793.1"/>
<path class="f" d="M583.8 797.5 L598.8 802.5"/>
<circle class="m w" cx="595.8" cy="836.7" r="20.6"/>
<circle class="g" cx="595.8" cy="836.7" r="19.4"/>
<circle class="m" cx="595.8" cy="836.7" r="17.4"/>
<circle class="f" cx="595.8" cy="836.7" r="16.2"/>
<path class="m" d="M619.5 842.2 C620.5 842.6 623.6 843.6 625.8 844.6 C628 845.5 631.4 846 632.9 847.7 C634.4 849.4 635.3 852.7 634.8 854.9 C634.3 857 632.2 859.9 630.1 860.7 C627.9 861.5 624.3 860.6 621.9 859.9 C619.4 859.2 617.6 856.5 615.5 856.4 C613.4 856.4 610.3 859.1 609.2 859.6"/>
<circle class="g" cx="626.6" cy="852.8" r="5.2"/>
<circle class="m" cx="626.6" cy="852.8" r="3.2"/>
<circle class="f" cx="626.6" cy="852.8" r="1.8"/>
<path class="m" d="M571.2 854.9 C570.8 855.9 570.2 859.1 568.9 861.2 C567.5 863.3 564.6 865.4 563.3 867.5 C562 869.6 560.7 871.7 561 873.8 C561.2 876 562.9 879 564.9 880.5 C566.9 882 570.4 883.2 572.8 882.9 C575.2 882.5 577.8 880.1 579.1 878.1 C580.5 876.1 579.9 873 581 871 C582.2 869 585.4 867 586.3 866.2"/>
<circle class="g" cx="573.6" cy="874.2" r="5.4"/>
<circle class="m" cx="573.6" cy="874.2" r="3.3"/>
<circle class="f" cx="573.6" cy="874.2" r="1.9"/>
<path class="g" d="M569.7 842.2 L570 854.9 L579.1 859.6"/>
<path class="f" d="M573.6 844.6 L573.6 854.1"/>
<path class="g" d="M617.1 837.5 C617.9 838.2 620.4 841 621.9 842.2 C623.3 843.4 625.1 844.2 625.8 844.6"/>
<path class="m" d="M586.3 786.8 C585.1 788.9 581.4 795 579.1 799.5 C576.9 804 575.2 809.2 572.8 813.7 C570.4 818.2 567.8 822.2 564.9 826.4 C562 830.6 558.8 835.1 555.4 839 C552 843 548 846.4 544.3 850.1 C540.7 853.8 537 857.8 533.3 861.2 C529.6 864.6 525.4 867.8 522.2 870.7 C519 873.6 516.9 876.7 514.3 878.6 C511.7 880.5 509 881.6 506.4 882.1 C503.7 882.5 504.5 880.5 498.5 881.3 C492.4 882.1 474.7 885.9 470 886.8"/>
<path class="f" d="M579.1 788.4 C578.1 790.5 574.7 796.9 572.8 801.1 C571 805.3 568.9 811.6 568.1 813.7"/>
<path class="m" d="M539.6 811.4 C541.2 805.3 545.9 803.9 549.1 801.4 C552.3 798.9 555.7 796.8 558.6 796.3 C561.5 795.9 564.5 797.3 566.5 798.7 C568.5 800.1 570.3 802 570.6 804.6 C570.9 807.1 570.1 810 568.1 813.7 C566.1 817.4 561.7 823 558.6 826.7 C555.4 830.4 551.7 833.8 549.1 836.2 C546.5 838.6 544.7 840.7 543.1 840.9 C541.5 841.1 540.2 842.4 539.6 837.5 C539 832.5 538 817.4 539.6 811.4Z"/>
<path class="g" d="M549.9 805 C550.8 804.5 555 800.4 555.4 801.9 C555.8 803.3 552.5 810 552.3 813.7 C552 817.4 553.2 821.6 553.8 824 C554.5 826.4 555.8 827.3 556.2 828"/>
<path class="f" d="M558.6 799.5 C559.6 799.9 563.5 800.5 564.9 801.9 C566.3 803.2 566.8 805.4 566.8 807.4 C566.8 809.4 566.5 810.7 564.9 813.7 C563.3 816.8 558.3 823.6 557 825.6"/>
<path class="f" d="M551.5 807.4 L555.4 806.6"/>
<path class="f" d="M551.5 811.4 L556.2 810.6"/>
<path class="f" d="M552.3 815.3 L557 814.5"/>
<path class="f" d="M553 819.3 L557 818.5"/>
<path class="f" d="M558.6 801.9 L559.4 821.6"/>
<path class="f" d="M542 815.3 L542 837.5"/>
<path class="f" d="M545.9 809 L545.9 837.5"/>
<path class="m" d="M519 837.5 C519.4 834.4 521 828.9 523 825.6 C525 822.3 528.4 819.7 530.9 817.7 C533.4 815.7 536.6 810.4 538 813.7 C539.5 817 540.3 832.9 539.6 837.5 C538.9 842 537.2 839.8 534.1 840.9 C530.9 842 523.1 844.7 520.6 844.1 C518.1 843.5 518.6 840.5 519 837.5Z"/>
<path class="f" d="M522.2 838.2 C523 837.8 524.6 836.4 526.9 835.9 C529.3 835.3 534.5 834.8 536.4 835.1 C538.4 835.3 538.4 837.1 538.8 837.5"/>
<path class="f" d="M525.4 823.2 L525.4 842.2"/>
<path class="f" d="M533.3 816.9 L533.3 840.6"/>
<path class="m" d="M504 850.4 C505.1 847.4 507.3 846.5 509.5 846.2 C511.8 845.8 514.9 847.3 517.5 848.5 C520 849.7 523.1 851.4 524.6 853.3 C526 855.1 526.7 857.2 526.3 859.6 C525.9 862 524.5 865.2 522.2 867.5 C519.9 869.8 515.5 872.4 512.7 873.2 C509.9 874 507.2 873.7 505.6 872.3 C504 870.8 503.5 868 503.2 864.3 C503 860.7 503 853.5 504 850.4Z"/>
<path class="f" d="M507.2 852.5 C508.8 852.3 514.2 851 516.7 851.7 C519.2 852.3 521.1 854.7 522.2 856.4 C523.3 858.1 523.8 860.1 523 862 C522.2 863.8 520 866.3 517.5 867.5 C514.9 868.7 509.5 868.8 508 869.1"/>
<path class="f" d="M517.5 848.5 L517.5 856.4"/>
<path class="m" d="M470 812.1 C472.6 811.1 479.8 807.3 485.8 805.8 C491.9 804.4 501.1 803.4 506.4 803.4 C511.7 803.4 514.7 804.3 517.5 805.8 C520.2 807.3 522.6 809.8 523.1 812.5 C523.7 815.1 522.4 818.5 520.6 821.6 C518.9 824.7 515.9 828.2 512.7 831.1 C509.5 834 506.1 836.7 501.6 839 C497.2 841.4 491.1 843.5 485.8 845.4 C480.5 847.3 472.6 849.6 470 850.4"/>
<path class="f" d="M470 816.1 C472.6 815 480 811.2 485.8 809.8 C491.6 808.3 499.9 807.4 504.8 807.4 C509.7 807.4 512.8 808.5 515.1 809.8 C517.3 811.1 517.7 814.4 518.2 815.3"/>
<path class="f" d="M479.5 808.2 L479.5 842.2"/>
<path class="f" d="M483.4 807.4 L483.4 841.4"/>
<path class="f" d="M506.4 804.2 L506.4 834.3"/>
<path class="f" d="M509.5 804.2 L509.5 831.9"/>
<path class="f" d="M520.6 813.7 L520.6 821.6"/>
<path class="g" d="M517.5 805.8 C518.8 804.8 522.7 801.9 525.4 799.5 C528 797.1 530.9 794.2 533.3 791.6 C535.6 788.9 538.5 785 539.6 783.7"/>
<path class="m" d="M498.5 851.7 L499.4 875.4 L497.8 882.1"/>
<path class="f" d="M500.1 853.3 L500.8 873.8"/>
<path class="f" d="M533.3 842.2 L533.3 861.2"/>
<path class="f" d="M535.6 842.2 L535.6 859.6"/>
<path class="f" d="M549.1 837.5 L549.9 846.9"/>
<path class="g" d="M547.5 850.1 L568.1 854.1"/>
<path class="f" d="M514.3 872.3 L514.3 878.6"/>
<path class="f" d="M508 873 L508 881"/>
<path class="m" d="M170.4 781.8 L196.1 773.4 L198.3 774.7 L197 777 L149.2 815"/>
<path class="g" d="M170.9 785.4 L197 775.6"/>
<path class="b2" d="M148.3 817.3 L158.9 839"/>
<path class="m" d="M158.9 839 L186.4 822.6 L187.7 823.9"/>
<path class="f" d="M160.5 840.6 L188 824.6"/>
<path class="f" d="M151 817.3 L222.7 765"/>
<path class="f" d="M153 819 L228.9 765"/>
<path class="g" d="M161.6 838.5 L180 823.9"/>
<path class="m" d="M71 807.2 L84.5 800.5 L94.7 803.2 L81.8 809.3Z"/>
<path class="m" d="M71 807.2 L71.7 816 L81.8 817.4 L81.8 809.3"/>
<circle class="m w" cx="89.9" cy="814" r="5.7"/>
<circle class="g" cx="89.9" cy="814" r="4.3"/>
<path class="m" d="M88.7 810.2 L91.2 817.8"/>
<ellipse class="f" cx="82.8" cy="805.2" rx="1.8" ry="0.9" transform="rotate(-15 82.8 805.2)"/>
<path class="m" d="M144.8 781.5 L158.3 775.4 L167.8 777.4 L154.9 783.5Z"/>
<path class="m" d="M144.8 781.5 L145.4 790.3 L154.2 791.7 L154.9 783.5"/>
<circle class="m w" cx="163" cy="788.3" r="5.7"/>
<circle class="g" cx="163" cy="788.3" r="4.3"/>
<path class="m" d="M161.8 784.5 L164.3 792.1"/>
<ellipse class="f" cx="156.3" cy="779.5" rx="1.8" ry="0.9" transform="rotate(-15 156.3 779.5)"/>
<path class="m" d="M94.7 803.2 C95 804.2 96.4 807.2 96.7 809.3 C97 811.3 97.3 813.4 96.7 815.3 C96.1 817.3 94.8 819.6 93.3 820.8 C91.9 821.9 88.8 821.9 87.9 822.1"/>
<path class="m" d="M167.8 777.4 C168.1 778.5 169.6 781.4 169.8 783.5 C170 785.7 169.9 788.4 169.1 790.3 C168.3 792.2 166.5 794.1 165.1 795 C163.6 795.9 161.1 795.6 160.3 795.7"/>
<path class="m" d="M71.7 816 C72.2 817.4 74.5 820.5 74.6 824.1 C74.8 827.8 73.1 833.2 72.3 837.7 C71.6 842.2 71.2 845.8 70.3 851.2 C69.4 856.6 67.5 867 66.9 870.2"/>
<path class="g" d="M81.8 817.4 C81.2 818.5 79.4 820.3 78.4 824.1 C77.4 828 76.5 835.4 75.7 840.4 C74.9 845.4 74.6 848.9 73.7 853.9 C72.8 859 70.9 868 70.3 870.9"/>
<path class="m" d="M96.7 815.3 C98.4 816.6 103.6 820.4 106.9 822.8 C110.1 825.2 114.8 828.4 116.3 829.6"/>
<path class="m" d="M116.3 829.6 C117.9 828.5 122.4 826.6 125.8 823.5 C129.2 820.3 133.9 814.8 136.6 810.6 C139.3 806.4 140.6 801.8 142.1 798.4 C143.5 795 144.9 791.7 145.4 790.3"/>
<path class="f" d="M94.7 820.8 C96.7 821.8 103.4 824.9 106.9 826.9 C110.4 828.8 114.2 831.4 115.7 832.3"/>
<path class="g" d="M120.4 829.6 C122 828.4 126.7 826 129.9 822.8 C133 819.6 136.4 815.1 139.3 810.6 C142.3 806.1 145 798.9 147.5 795.7 C150 792.6 153.1 792.3 154.2 791.7"/>
<path class="m" d="M154.2 791.7 C152.7 793.9 147.1 802 144.8 805.2 C142.4 808.4 140.5 808.8 140 810.6 C139.6 812.4 140.1 811.7 142.1 816 C144 820.3 149.5 832 151.5 836.3 C153.6 840.6 154.5 838.4 154.2 841.7 C154 845.1 151.8 851.4 150.2 856.6 C148.6 861.8 146.6 867.9 144.8 872.9 C143 877.8 140.2 884.2 139.3 886.4"/>
<path class="g" d="M138.7 813.3 C140.5 817.4 147.5 832.7 149.5 837.7 C151.5 842.7 151.9 838.1 150.9 843.1 C149.8 848.1 145.6 860.5 143.4 867.5 C141.3 874.5 138.9 882.1 138 885.1"/>
<path class="m" d="M82.5 824.1 C86.4 823.9 100.2 831.4 104.1 833.6 C108.1 835.9 107.8 835.4 106.2 837.7 C104.6 839.9 98.4 844.2 94.7 847.2 C91 850.1 86.4 854.2 83.8 855.3 C81.2 856.4 80 854.8 79.1 853.9 C78.2 853 78.2 853 78.4 849.9 C78.7 846.7 79.8 839.3 80.5 835 C81.1 830.7 78.5 824.4 82.5 824.1Z"/>
<path class="m" d="M123.8 836.3 C123.6 833.7 129 830.6 131.2 828.2 C133.5 825.8 135.7 823 137.3 822.1 C138.9 821.2 138.6 820.2 140.7 822.8 C142.8 825.4 149.5 833.4 150.2 837.7 C150.9 842 146.1 846.5 144.8 848.5 C143.4 850.5 144.1 850.7 142.1 849.9 C140 849.1 135.6 846 132.6 843.8 C129.5 841.5 124 838.9 123.8 836.3Z"/>
<path class="f" d="M138.7 824.1 L146.8 837.7 L143.4 845.8"/>
<path class="m" d="M93.3 859.3 C94.8 857.1 99.3 853.7 102.1 851.2 C104.9 848.7 108.1 845.6 110.2 844.5 C112.4 843.3 111.3 842.7 115 844.5 C118.7 846.3 129.3 852.8 132.6 855.3 C135.8 857.8 135.7 857.3 134.6 859.3 C133.5 861.4 130.2 864.5 125.8 867.5 C121.4 870.4 112.7 875.8 108.2 876.9 C103.7 878.1 101.2 876.3 98.7 874.2 C96.3 872.2 94.2 867.2 93.3 864.8 C92.4 862.3 91.9 861.6 93.3 859.3Z"/>
<path class="f" d="M96.7 860.7 C99.1 858.6 105.4 848.3 110.9 847.8 C116.4 847.4 126.5 855.8 129.9 858 C133.3 860.1 131 860.2 131.2 860.7"/>
<path class="f" d="M131.2 856.6 L129.9 863.4 L115 872.9"/>
<path class="m" d="M123.8 876.9 C124.7 875.5 128.6 872.4 131.2 870.2 C133.8 867.9 137.5 864.3 139.3 863.4 C141.2 862.5 141.8 863.6 142.1 864.8 C142.3 865.9 142.5 867.9 140.7 870.2 C138.9 872.4 133.7 876.8 131.2 878.3 C128.7 879.8 127 879.2 125.8 879 C124.6 878.7 122.9 878.4 123.8 876.9Z"/>
<circle class="m" cx="82.2" cy="876.3" r="11.6"/>
<circle class="g" cx="82.2" cy="876.3" r="9.2"/>
<path class="m" d="M66.9 870.2 C66 869.7 62.7 866.8 61.5 867.5 C60.3 868.1 59.5 871.8 59.5 874.2 C59.5 876.7 60.2 880.6 61.5 882.4 C62.9 884.2 66.6 884.6 67.6 885.1"/>
<path class="g" d="M67.6 872.9 C67.7 874.5 67.4 879.4 68.3 882.4 C69.2 885.3 70.9 888.6 73 890.5 C75.2 892.4 78.2 893.6 81.1 893.9 C84.1 894.1 87.5 892.6 90.6 891.8 C93.8 891 98.5 889.6 100.1 889.1"/>
<path class="g" d="M66.9 870.2 L70.3 870.9 L77.1 872.9"/>
<path class="w" stroke="none" d="M77.1 871.8 L163.7 895.9 L162.4 905.4 L158.3 907.8 L76.4 884.0Z"/>
<path class="m" d="M77.1 871.8 L163.7 895.9"/>
<path class="m" d="M76.4 884 L158.3 907.8"/>
<ellipse class="m w" cx="77.5" cy="878.0" rx="3.2" ry="6.3" transform="rotate(-12 77.5 878.0)"/>
<path class="g" d="M144.8 900 C145.7 900.6 147.9 903.1 150.2 904 C152.4 904.9 155.6 905.5 158.3 905.4 C161 905.3 165.1 903.7 166.4 903.3"/>
<path class="g" d="M139 889.3 C139.7 888.1 141.2 883.7 143.4 881.8 C145.7 880 148.9 878.8 152.4 878.1 C155.9 877.3 160.6 877.8 164.4 877.3 C168.1 876.8 171.3 876 174.8 875.1 C178.3 874.2 181.8 873.2 185.3 872.1 C188.8 871 194 869 195.7 868.4"/>
<path class="f" d="M152.4 865.4 C154.4 865.6 159.9 867 164.4 866.9 C168.8 866.8 174.6 865.6 179.3 864.6 C184 863.7 190.5 861.5 192.7 860.9"/>
<path class="g" d="M144.9 892.3 C145.4 891 146.2 886.6 147.9 884.8 C149.7 883.1 152.7 882.1 155.4 881.8 C158.1 881.6 162.4 882.1 164.4 883.3 C166.4 884.6 166.8 888.3 167.3 889.3"/>
<circle class="m" cx="154.6" cy="888.6" r="4.2"/>
<circle class="g" cx="154.6" cy="888.6" r="2.4"/>
<path class="f" d="M140.5 899.8 C141.5 900.5 143.9 903.2 146.4 904.2 C148.9 905.2 152.8 905.7 155.4 905.7 C158 905.7 161 904.5 162.1 904.2"/>
<path class="g" d="M152.4 866.9 L153.9 875.9"/>
<path class="m" d="M259.6 819.3 L229.8 840 L216.6 849"/>
<path class="m" d="M216.6 849 C213.9 851.2 207.2 857.4 200.2 862.4 C193.2 867.4 179.8 875.6 174.8 879.1 C169.8 882.7 170.8 882.9 170 883.6"/>
<path class="g" d="M265.8 822.9 L248.3 839.2 L234.6 848.2"/>
<path class="g" d="M234.6 848.2 C231.8 850 223.6 855.3 218.1 858.7 C212.7 862 208.2 864.5 201.7 868.4 C195.2 872.3 183 879.8 179.3 882.1"/>
<path class="m" d="M170 883.6 C169.6 884.6 168 887.5 167.3 889.3 C166.6 891.1 166.1 893.7 165.9 894.5"/>
<path class="m" d="M245 849.3 C245.3 852.2 247 862 246.8 866.9 C246.6 871.8 245.3 874.9 243.8 878.8 C242.3 882.8 239.6 887.3 237.9 890.8 C236.1 894.3 234.4 897 233.4 899.8 C232.4 902.5 232.1 906.2 231.9 907.5"/>
<path class="g" d="M249.5 857.9 C249.8 859.9 251.4 866 251.3 869.9 C251.2 873.7 250.2 877.3 248.8 881.1 C247.3 884.8 244.4 888.9 242.8 892.3 C241.2 895.6 239.6 898.8 239.1 901.2 C238.6 903.7 239.7 906.2 239.8 907.2"/>
<path class="m" d="M213.7 859.7 C215.6 858.2 222.1 856.2 225.6 854.6 C229.1 853.1 232 850.7 234.6 850.5 C237.2 850.3 240 850.2 241.3 853.4 C242.6 856.7 242.7 865.9 242.3 869.9 C242 873.9 240.6 876.1 239.1 877.3 C237.5 878.6 235.8 878.6 233.1 877.3 C230.3 876.1 225.9 872.1 222.6 869.9 C219.4 867.6 215.2 865.6 213.7 863.9 C212.2 862.2 211.7 861.3 213.7 859.7Z"/>
<path class="f" d="M217.4 860.9 L233.1 854.2 L237.6 856.4 L238.3 872.1 L234.6 874.7"/>
<circle class="f" cx="240.8" cy="859.1" r="1.2"/>
<path class="m" d="M174.8 880.3 L200.2 862.4"/>
<path class="g" d="M176.6 882.6 L201.7 865.1"/>
<path class="m" d="M210.7 865.1 C212.7 866.5 218.3 870.5 222.6 873.6 C227 876.7 234.3 881.3 236.8 883.6 C239.4 885.9 239.7 885.3 237.9 887.5 C236 889.7 229.6 893.7 225.6 896.8 C221.6 899.9 215.6 904.5 213.7 906"/>
<path class="f" d="M212.9 868.4 L234.6 884.1 L215.9 903.5"/>
<path class="g" d="M174.8 890.8 C175.8 891.8 178.8 895.9 180.8 896.8 C182.8 897.6 185.8 896.1 186.8 896"/>
<circle class="g" cx="216.9" cy="876.2" r="1.2"/>
<path class="m" d="M190.5 890.8 C191.9 888.6 197.5 885.2 200.2 883.3 C203 881.5 205.1 879.8 206.9 879.6 C208.8 879.3 210.5 880.7 211.4 881.8 C212.3 882.9 213.3 884.6 212.2 886.3 C211 888.1 207.4 890.2 204.7 892.3 C202 894.3 197.9 897.8 195.7 898.6 C193.5 899.3 192.4 898.1 191.5 896.8 C190.7 895.5 189.1 893 190.5 890.8Z"/>
<path class="b2" d="M193.5 890.5 C194.5 888.8 199.3 886.1 201.7 884.8 C204.1 883.6 206.4 882.9 207.7 883 C208.9 883.1 210.2 884.1 209.2 885.6 C208.2 887 203.9 889.9 201.7 891.5 C199.5 893.2 197.1 895.4 195.7 895.3 C194.4 895.1 192.5 892.2 193.5 890.5Z"/>
<path class="f" d="M195.7 890 L198 893.5"/>
<path class="f" d="M198.1 888.4 L200.4 891.8"/>
<path class="f" d="M200.5 886.8 L202.8 890.2"/>
<path class="f" d="M202.9 885.1 L205.1 888.6"/>
<path class="f" d="M205.3 883.5 L207.5 886.9"/>
<circle class="m w" cx="206.2" cy="871.4" r="6.5"/>
<circle class="b2" cx="206.2" cy="871.4" r="5.4"/>
<circle class="g" cx="206.2" cy="871.4" r="3.3"/>
<circle class="g" cx="206.2" cy="871.4" r="0.9"/>
<circle class="m w" cx="185.3" cy="886.3" r="6.5"/>
<circle class="b2" cx="185.3" cy="886.3" r="5.4"/>
<circle class="g" cx="185.3" cy="886.3" r="3.3"/>
<circle class="g" cx="185.3" cy="886.3" r="0.9"/>
<circle class="m w" cx="227.8" cy="885.6" r="6.5"/>
<circle class="b2" cx="227.8" cy="885.6" r="5.4"/>
<circle class="g" cx="227.8" cy="885.6" r="3.3"/>
<circle class="g" cx="227.8" cy="885.6" r="0.9"/>
<circle class="m w" cx="207.7" cy="900.5" r="6.5"/>
<circle class="b2" cx="207.7" cy="900.5" r="5.4"/>
<circle class="g" cx="207.7" cy="900.5" r="3.3"/>
<circle class="g" cx="207.7" cy="900.5" r="0.9"/>
<path class="m" d="M188.3 896 L194.2 896.8 L195.7 905.7 L189.8 907.2 L187.5 901.2Z"/>
<path class="m" d="M195.7 905.7 L201.7 907.5"/>
<path class="f" d="M197.2 897.5 L198 905.7"/>
<path class="f" d="M199.5 898.3 L200.2 906.5"/>
<path class="m" d="M167.3 895.3 C166.5 896.8 163.4 901 162.1 904.2 C160.9 907.5 160 911.5 159.9 914.7 C159.8 917.9 161.8 920.7 161.4 923.7 C160.9 926.6 158.3 929.6 157.2 932.6 C156.1 935.6 154.6 939.1 154.6 941.6 C154.7 944.1 156.5 945.9 157.3 947.6 C158.2 949.2 159.6 950.2 159.9 951.3 C160.2 952.3 158 953.7 159.1 953.8 C160.3 954 164.4 953.2 166.6 952 C168.8 950.9 170.9 948.3 172.6 946.8 C174.2 945.3 175.7 944.9 176.6 943.1 C177.5 941.2 178.4 938.2 178.1 935.6 C177.9 933 175.2 929.8 175.1 927.4 C175 925 175.9 923.5 177.5 921.4 C179.1 919.3 183.7 916.1 185 915"/>
<path class="g" d="M171.1 898.3 C170.3 899.5 167.7 903 166.6 905.7 C165.5 908.5 164.8 911.7 164.7 914.7 C164.5 917.7 166.3 920.7 165.9 923.7 C165.4 926.6 163 930.1 162.1 932.6 C161.2 935.1 160.9 937.6 160.6 938.6"/>
<ellipse class="m" cx="168.1" cy="937.8" rx="4.2" ry="5.8" transform="rotate(20 168.1 937.8)"/>
<path class="f" d="M165.9 932.6 C166.6 932.6 168.9 931.6 170 932.3 C171.2 933.1 172.2 936.3 172.6 937.1"/>
<circle class="m w" cx="183" cy="908.7" r="6.6"/>
<circle class="g" cx="183" cy="908.7" r="5.4"/>
<circle class="m" cx="183" cy="908.7" r="3.8"/>
<circle class="m" cx="183" cy="908.7" r="1.9"/>
<path class="m" d="M170.3 899.8 C171.1 899.3 172.8 897.1 174.8 896.8 C176.8 896.4 180.2 896.8 182.3 897.5 C184.4 898.3 186.6 900.6 187.5 901.2"/>
<path class="g" d="M172.6 902.7 C172.5 904 171.5 908 171.8 910.2 C172.2 912.5 173.4 914.8 174.8 916.2 C176.2 917.6 179.2 918.1 180 918.4"/>
<path class="m" d="M213.7 906 C214.7 906.7 217.4 909.3 219.6 910.2 C221.9 911.2 224.9 911.7 227.1 911.7 C229.3 911.7 232.1 910.5 233.1 910.2"/>
<path class="g" d="M210.7 908 C211.9 908.8 215.6 912.1 218.1 913.2 C220.6 914.3 224.4 914.4 225.6 914.7"/>
<path class="m" d="M234.6 902.7 C236.1 902.2 238.6 900.4 243.5 899.8 C248.5 899.1 259.7 898.3 264.4 899 C269.2 899.8 270.4 901.6 271.9 904.2 C273.5 906.9 273.5 911.5 273.7 914.7 C274 917.9 274.2 920.9 273.4 923.7 C272.6 926.4 271.7 929.7 268.9 931.4 C266.2 933.2 261.2 933.4 257 934.1 C252.7 934.9 245.8 935.6 243.5 935.9"/>
<path class="m" d="M248 908.7 C249.5 908.3 254.2 907 257 906.5 C259.7 906 262.3 905.1 264.4 905.7 C266.6 906.4 268.6 907.7 269.7 910.2 C270.7 912.7 271.3 917.9 270.7 920.7 C270.1 923.5 268.2 925.6 265.9 926.9 C263.7 928.3 259.7 928.4 257 928.9 C254.2 929.4 250.8 929.8 249.5 929.9"/>
<path class="f" d="M249.5 910.5 C252 910 261.3 907.4 264.4 907.5 C267.6 907.7 267.4 909.3 268.2 911.4 C268.9 913.5 269.4 917.6 268.9 919.9 C268.4 922.2 265.8 924.3 265.2 925.2"/>
<circle class="m w" cx="251" cy="917.7" r="13.2"/>
<circle class="b2" cx="251" cy="917.7" r="12.2"/>
<circle class="g" cx="251" cy="917.7" r="10.6"/>
<circle class="m" cx="251" cy="917.7" r="6"/>
<circle class="g" cx="251" cy="917.7" r="3.8"/>
<circle class="g" cx="251" cy="917.7" r="1.1"/>
<path class="m" d="M222.6 914.7 C222.7 916.2 222.4 920.9 223.4 923.7 C224.4 926.4 226.2 929.1 228.6 931.1 C231 933.1 234.3 934.6 237.6 935.6 C240.8 936.7 244.8 937.4 248 937.4 C251.3 937.4 255.5 935.9 257 935.6"/>
<path class="g" d="M227.1 910.2 C227.8 909.5 229.8 907 231.6 905.7 C233.3 904.5 236.6 903.2 237.6 902.7"/>
<circle class="m" cx="282.4" cy="911.7" r="6"/>
<circle class="g" cx="282.4" cy="911.7" r="3.4"/>
<circle class="g" cx="282.4" cy="911.7" r="1"/>
<path class="g" d="M273.4 905.7 C274.2 905.2 275.7 903.4 277.9 902.7 C280.1 902.1 284.5 901.5 286.9 902 C289.2 902.5 291.2 905.1 292.1 905.7"/>
<path class="m" d="M260 895.6 L279.4 891.5 L292.8 889.3"/>
<path class="g" d="M249.5 889.3 L300 880.3"/>
<path class="m" d="M273.4 923.7 L293.6 919.9"/>
<path class="g" d="M270.4 931.9 L294.3 926.6"/>
<path class="f" d="M279.4 891.5 L280.9 895.3 L286.9 894.1"/>
<path class="g" d="M258.5 895.3 L261.5 899"/>
<line class="l" x1="611.9" y1="555.9" x2="900.2" y2="555.9"/>
<line class="l" x1="376.3" y1="583.5" x2="663.1" y2="583.5"/>
<line class="l" x1="713.9" y1="601.6" x2="1003.2" y2="601.6"/>
<line class="l" x1="617.5" y1="609.7" x2="679.5" y2="609.7"/>
<line class="l" x1="580.6" y1="780.2" x2="870" y2="780.2"/>
<line class="l" x1="475.3" y1="768.1" x2="538.2" y2="768.1"/>
<line class="l" x1="25.7" y1="813.9" x2="86.8" y2="813.9"/>
<line class="l" x1="38" y1="888.3" x2="101" y2="888.3"/>
<line class="l" x1="442.5" y1="854" x2="732.2" y2="854"/>
<line class="l" x1="282" y1="924.9" x2="570.5" y2="924.9"/>
<path class="d" style="stroke-width:2.35" transform="translate(908.4 546.0) scale(1.000 1.000)" d="M11.3 22.8 L11.3 1.3 L10.6 1.3 L1.3 15 L1.3 16.2 L16.4 16.2"/>
<path class="d" style="stroke-width:2.35" transform="translate(352.9 568.0) scale(1.000 1.000)" d="M13.6 1.3 L4.4 1.3 L3.1 9.9 C4.3 9.6 5.2 9.5 6.4 9.5 C10.6 9.5 13.8 11.7 13.8 15.6 C13.8 19.5 10.6 22 6.6 22 C4.4 22 2.4 21.4 1.2 20.5"/>
<path class="d" style="stroke-width:2.35" transform="translate(1013.0 591.2) scale(1.000 1.000)" d="M0.6 1.3 L13.9 1.3 L13.9 1.9 L3.9 22.8"/>
<path class="d" style="stroke-width:2.35" transform="translate(598.0 599.4) scale(1.000 1.000)" d="M7.8 10.9 C4.6 9.8 2.9 8.2 2.9 5.9 C2.9 3.2 4.9 1.2 7.8 1.2 C10.7 1.2 12.7 3.1 12.7 5.7 C12.7 8 10.9 9.7 7.8 10.9 C11.6 12.1 14 13.8 14 16.6 C14 19.7 11.4 21.8 7.8 21.8 C4.2 21.8 1.5 19.8 1.5 16.8 C1.5 14.1 3.8 12.2 7.8 10.9Z"/>
<path class="d" style="stroke-width:2.35" transform="translate(880.2 769.8) scale(1.000 1.000)" d="M0.6 1.3 L13.9 1.3 L13.9 1.9 L3.9 22.8"/>
<path class="d" style="stroke-width:2.35" transform="translate(455.8 758.3) scale(1.000 1.000)" d="M3.2 21.8 C9.6 21.4 14.4 16.6 14.4 9 C14.4 4.1 11.8 1.2 8 1.2 C4.2 1.2 1.6 4 1.6 7.7 C1.6 11.5 4.1 13.8 7.6 13.8 C10.6 13.8 13.1 12 14.2 9.6"/>
<path class="d" style="stroke-width:2.35" transform="translate(5.3 803.7) scale(1.000 1.000)" d="M1.9 3.3 C3.6 2 5.6 1.2 7.6 1.2 C10.6 1.2 12.3 3.2 12.3 5.8 C12.3 8.7 9.8 10.9 5.4 10.9 C10.4 10.9 13.6 12.9 13.6 16.3 C13.6 19.7 10.8 21.8 6.7 21.8 C4.6 21.8 2.6 21.2 1.2 20.3"/>
<path class="d" style="stroke-width:2.35" transform="translate(18.6 878.0) scale(1.000 1.000)" d="M1.9 4.6 C3.6 2.4 5.8 1.2 8.1 1.2 C11.3 1.2 13 3.5 13 6.2 C13 10.3 9.2 13.9 2 20.9 L2 21.8 L14.6 21.8"/>
<path class="d" style="stroke-width:2.35" transform="translate(743.6 844.2) scale(1.000 1.000)" d="M1 6.6 L7.6 2.2 L7.6 22.8"/>
<path class="d" style="stroke-width:2.35" transform="translate(580.9 914.6) scale(1.000 1.000)" d="M12.6 1.3 C6.4 1.6 1.6 6.4 1.6 14 C1.6 18.9 4.2 21.8 8 21.8 C11.8 21.8 14.4 19 14.4 15.3 C14.4 11.5 11.9 9.2 8.4 9.2 C5.4 9.2 2.9 11 1.8 13.4"/>
</svg>
</body></html>
